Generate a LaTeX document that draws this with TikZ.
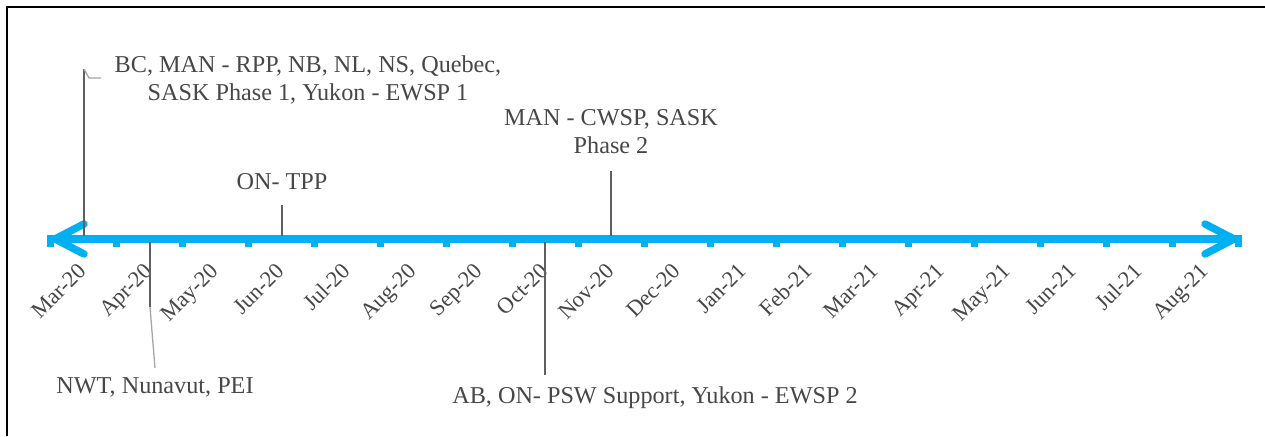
\documentclass[tikz,border=0pt]{standalone}
\usepackage{fontspec}
\setmainfont{Liberation Serif}
\newfontfamily\tms{Liberation Serif}
\definecolor{axisblue}{HTML}{00B0F0}
\definecolor{txtgray}{HTML}{474747}
\definecolor{stemgray}{HTML}{5F5F5F}
\definecolor{leadgray}{HTML}{A6A6A6}
\begin{document}
\begin{tikzpicture}[x=1pt,y=-1pt,
  axisline/.style={draw=axisblue,line width=7.5pt},
  arrowarm/.style={draw=axisblue,line width=7.5pt,line cap=round,line join=round},
  tickmark/.style={fill=axisblue},
  stem/.style={draw=stemgray,line width=2.2pt},
  leader/.style={draw=leadgray,line width=1.3pt},
  evlabel/.style={text=txtgray,font=\tms\fontsize{24.2}{27.5}\selectfont,align=center,inner sep=0pt,anchor=base},
  monthlabel/.style={text=txtgray,font=\tms\fontsize{22.5}{24}\selectfont,inner sep=0pt,anchor=base east,rotate=45}]
\useasboundingbox (0,0) rectangle (1265,436);
\fill[white] (0,0) rectangle (1265,436);
% frame
\draw[black,line width=2.2pt] (7,436) -- (7,7) -- (1265,7);
% axis
\coordinate (axL) at (47,239);
\coordinate (axR) at (1242,239);
\draw[axisline] (axL) -- (axR);
\foreach \i in {0,...,18}{
  \fill[tickmark] (46.5+66*\i,242) rectangle (53.5+66*\i,246.5);
}
\coordinate (tipL) at (55,239);
\coordinate (tipR) at (1234,239);
\draw[arrowarm] (84,224) -- (tipL) -- (84,254);
\draw[arrowarm] (1205,224) -- (tipR) -- (1205,254);
% month labels
\foreach \m [count=\i from 0] in {Mar-20,Apr-20,May-20,Jun-20,Jul-20,Aug-20,Sep-20,Oct-20,Nov-20,Dec-20,Jan-21,Feb-21,Mar-21,Apr-21,May-21,Jun-21,Jul-21,Aug-21}{
  \node[monthlabel] (m\i) at (88+66*\i,272) {\m};
}
% events
\coordinate (e1a) at (84,236);
\coordinate (e1b) at (84,69);
\draw[stem] (e1a) -- (e1b);
\coordinate (e1c) at (89,78);
\coordinate (e1d) at (101,78);
\draw[leader] (e1b) -- (e1c) -- (e1d);
\node[evlabel] (l1) at (308,100) {BC, MAN - RPP, NB, NL, NS, Quebec,\\SASK Phase 1, Yukon - EWSP 1};

\coordinate (e2a) at (150,242);
\coordinate (e2b) at (150,307);
\coordinate (e2c) at (155,368);
\draw[stem] (e2a) -- (e2b);
\draw[leader] (e2b) -- (e2c);
\node[evlabel] (l2) at (155,393) {NWT, Nunavut, PEI};

\coordinate (e3a) at (282,236);
\coordinate (e3b) at (282,205);
\draw[stem] (e3a) -- (e3b);
\node[evlabel] (l3) at (282,189) {ON- TPP};

\coordinate (e4a) at (545,242);
\coordinate (e4b) at (545,375);
\draw[stem] (e4a) -- (e4b);
\node[evlabel] (l4) at (655,403) {AB, ON- PSW Support, Yukon - EWSP 2};

\coordinate (e5a) at (611,236);
\coordinate (e5b) at (611,171);
\draw[stem] (e5a) -- (e5b);
\node[evlabel] (l5) at (611,153) {MAN - CWSP, SASK\\Phase 2};
\end{tikzpicture}
\end{document}
